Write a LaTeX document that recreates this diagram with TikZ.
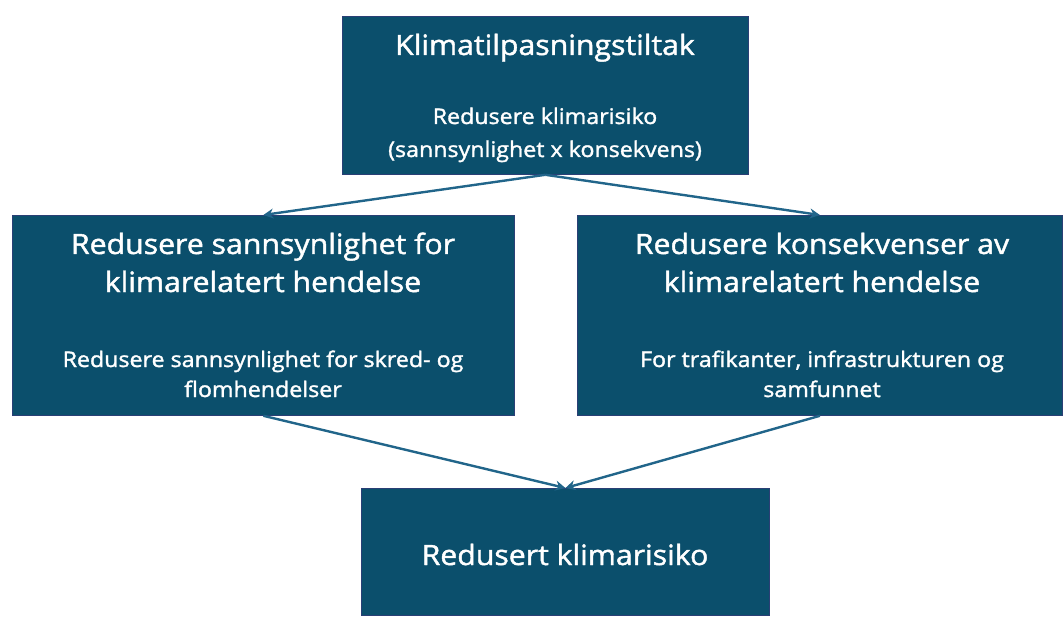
\documentclass[tikz,border=0pt]{standalone}
\usepackage{fontspec}
\setmainfont{Open Sans}[FakeStretch=1.08,FakeBold=1.5]
\usetikzlibrary{arrows.meta}
\definecolor{boxfill}{HTML}{0B4F6C}
\definecolor{boxline}{HTML}{2A3F75}
\definecolor{arrowc}{HTML}{21658A}
\tikzset{
  box/.style={draw=boxline, line width=0.8pt, fill=boxfill, inner sep=0pt, anchor=north west},
  big/.style={text=white, font=\fontsize{28}{32}\selectfont, anchor=base, inner sep=0pt},
  small/.style={text=white, font=\fontsize{21.5}{26}\selectfont, anchor=base, inner sep=0pt},
  conn/.style={draw=arrowc, line width=2.4pt, -{Stealth[length=10pt,width=10pt]}}
}
\begin{document}
\begin{tikzpicture}[x=1pt,y=-1pt]
\useasboundingbox (0,0) rectangle (1064,617);
\node[box, minimum width=406pt, minimum height=158pt] (top) at (342,16) {};
\node[box, minimum width=502pt, minimum height=200pt] (left) at (12,215) {};
\node[box, minimum width=485pt, minimum height=200pt] (right) at (577,215) {};
\node[box, minimum width=408pt, minimum height=127pt] (bot) at (361,488) {};
\node[big] (t1) at (545,55) {Klimatilpasningstiltak};
\node[small] (t2) at (545,124) {Redusere klimarisiko};
\node[small] (t3) at (545,157) {(sannsynlighet x konsekvens)};
\node[big] (l1) at (263,254) {Redusere sannsynlighet for};
\node[big] (l2) at (263,292) {klimarelatert hendelse};
\node[small] (l3) at (263,367) {Redusere sannsynlighet for skred- og};
\node[small] (l4) at (263,397) {flomhendelser};
\node[big] (r1) at (822,254) {Redusere konsekvenser av};
\node[big] (r2) at (822,292) {klimarelatert hendelse};
\node[small] (r3) at (822,367) {For trafikanter, infrastrukturen og};
\node[small] (r4) at (822,397) {samfunnet};
\node[big] (b1) at (565,565) {Redusert klimarisiko};
\draw[conn] (top.south) -- (left.north);
\draw[conn] (top.south) -- (right.north);
\draw[conn] (left.south) -- (bot.north);
\draw[conn] (right.south) -- (bot.north);
\end{tikzpicture}
\end{document}
